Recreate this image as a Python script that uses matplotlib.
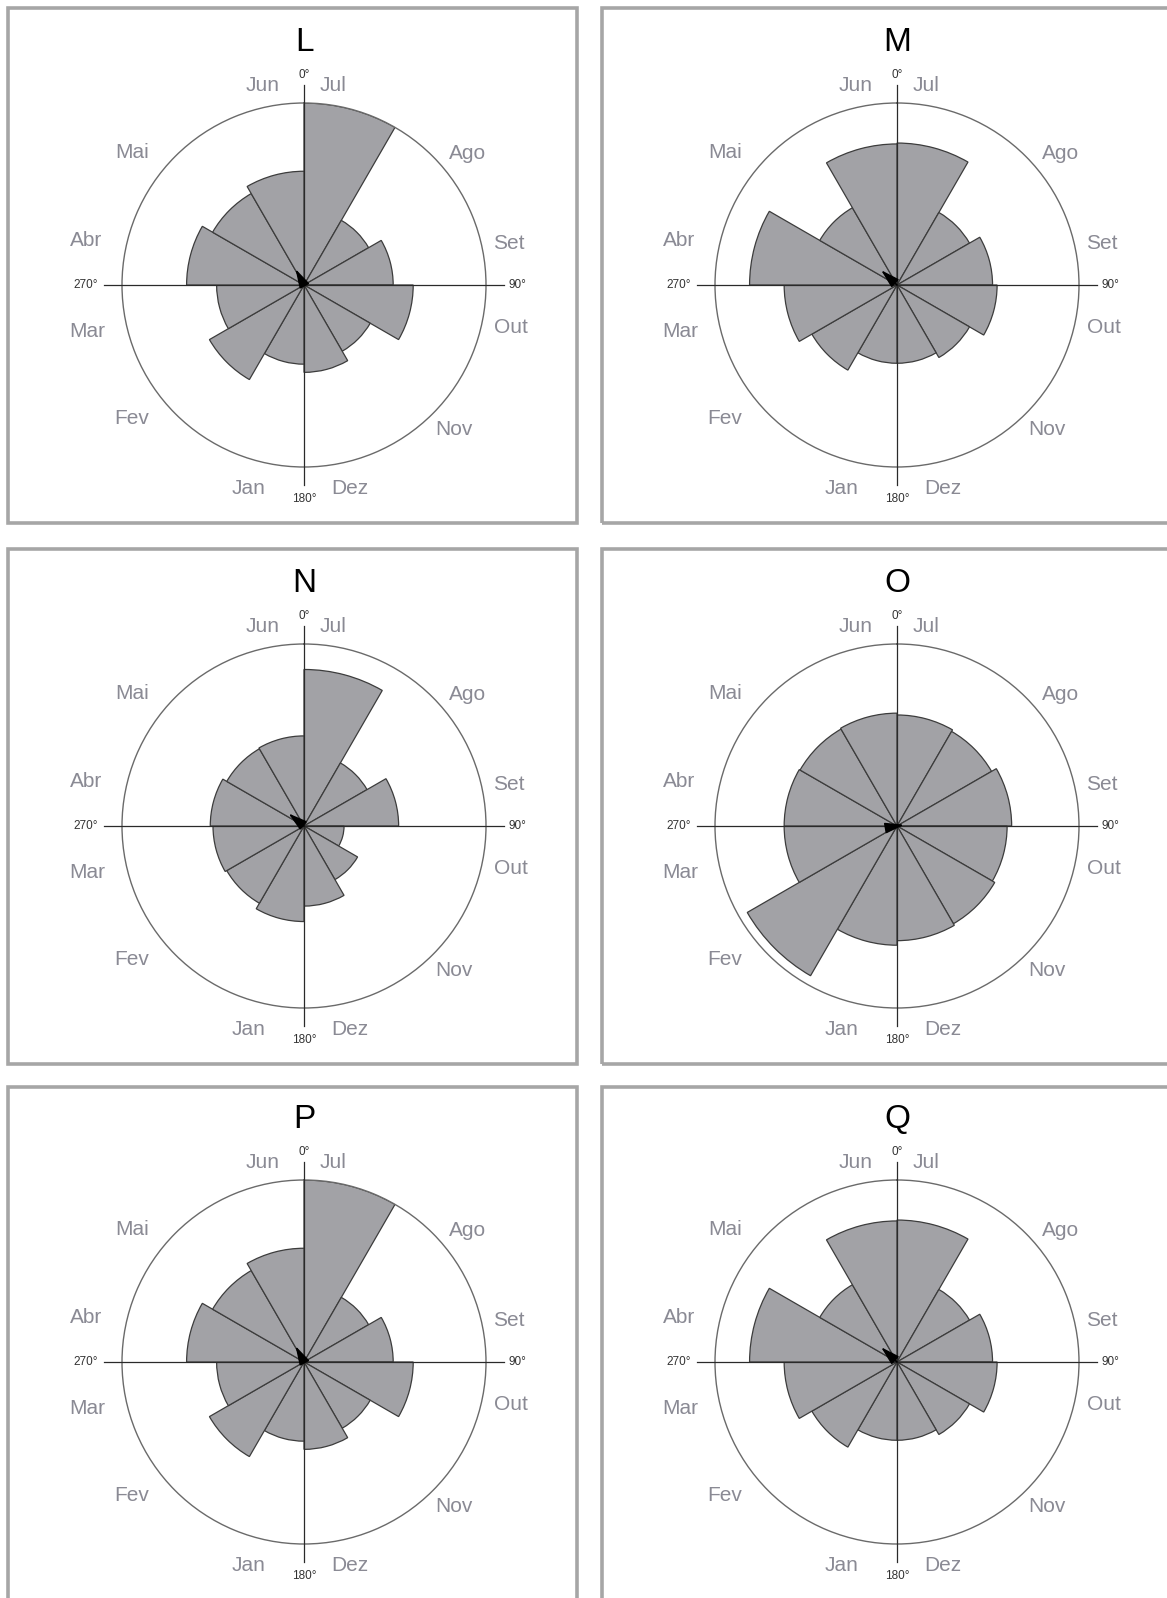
import numpy as np
import matplotlib
matplotlib.use("Agg")
import matplotlib.pyplot as plt
from matplotlib.patches import Rectangle

plt.rcParams['font.family'] = ['Liberation Sans', 'DejaVu Sans']

# Months in drawing order: clockwise starting at 0 deg (north)
months = ["Jul", "Ago", "Set", "Out", "Nov", "Dez",
          "Jan", "Fev", "Mar", "Abr", "Mai", "Jun"]

# Sector lengths as a fraction of the outer circle radius
vals_L = [1.00, 0.41, 0.49, 0.60, 0.42, 0.48, 0.435, 0.60, 0.48, 0.645, 0.58, 0.625]
vals_M = [0.78, 0.46, 0.525, 0.55, 0.46, 0.43, 0.43, 0.54, 0.62, 0.81, 0.49, 0.775]
vals_N = [0.86, 0.40, 0.52, 0.22, 0.34, 0.44, 0.525, 0.49, 0.50, 0.515, 0.49, 0.495]
vals_O = [0.61, 0.60, 0.63, 0.605, 0.62, 0.63, 0.655, 0.95, 0.62, 0.62, 0.615, 0.62]
vals_P = [1.00, 0.41, 0.49, 0.60, 0.42, 0.48, 0.435, 0.60, 0.48, 0.645, 0.58, 0.625]
vals_Q = [0.78, 0.46, 0.525, 0.55, 0.46, 0.43, 0.43, 0.54, 0.62, 0.81, 0.49, 0.775]

# Mean vector (direction in degrees clockwise from north, length)
arrow_dir = [332, 313, 309, 80, 332, 313]
arrow_len = [0.10, 0.12, 0.11, 0.04, 0.10, 0.12]

panel_titles = ["L", "M", "N", "O", "P", "Q"]
panel_vals = [vals_L, vals_M, vals_N, vals_O, vals_P, vals_Q]

W, H = 1167, 1598
fig = plt.figure(figsize=(W / 100, H / 100), dpi=100)

R = 182  # outer circle radius in pixels
centers = [(304, 285), (897, 285), (304, 826), (897, 826), (304, 1362), (897, 1362)]
frames = [(8, 8, 577, 523), (602, 8, 1175, 523),
          (8, 549, 577, 1064), (602, 549, 1175, 1064),
          (8, 1087, 577, 1610), (602, 1087, 1175, 1610)]

# label offsets in units of the circle radius (x right, y up)
label_pos = {
    "Jul": (0.16, 1.095), "Ago": (0.896, 0.723), "Set": (1.124, 0.229),
    "Out": (1.135, -0.233), "Nov": (0.824, -0.795), "Dez": (0.253, -1.117),
    "Jan": (-0.303, -1.117), "Fev": (-0.946, -0.735), "Mar": (-1.19, -0.255),
    "Abr": (-1.2, 0.242), "Mai": (-0.946, 0.726), "Jun": (-0.228, 1.095),
}
deg_pos = {"0°": (0, 1.155), "90°": (1.17, 0), "180°": (0, -1.175), "270°": (-1.2, 0)}

fill_col = "#a2a2a6"
edge_col = "#3c3c3c"
label_col = "#8a8a94"

theta = np.deg2rad(np.arange(12) * 30)
width = np.deg2rad(30)

for i in range(6):
    # panel frame
    x0, y0, x1, y1 = frames[i]
    fig.add_artist(Rectangle((x0 / W, 1 - y1 / H), (x1 - x0) / W, (y1 - y0) / H,
                             transform=fig.transFigure, fill=False,
                             edgecolor="#a6a6a6", linewidth=2.6))

    cx, cy = centers[i]
    ax = fig.add_axes([(cx - R) / W, 1 - (cy + R) / H, 2 * R / W, 2 * R / H],
                      projection="polar")
    ax.set_theta_zero_location("N")
    ax.set_theta_direction(-1)
    ax.set_ylim(0, 1)
    ax.grid(False)
    ax.set_xticks([])
    ax.set_yticks([])
    ax.patch.set_alpha(0)
    ax.spines["polar"].set_color("#6a6a6a")
    ax.spines["polar"].set_linewidth(1.0)

    ax.bar(theta, panel_vals[i], width=width, align="edge",
           color=fill_col, edgecolor=edge_col, linewidth=0.9, zorder=2)

    # cross axes extending past the circle
    for a in [0, 90, 180, 270]:
        ax.plot([np.deg2rad(a), np.deg2rad(a)], [0, 1.1], color="#2a2a2a",
                lw=0.9, clip_on=False, zorder=3)

    ax.annotate("", xy=(np.deg2rad(arrow_dir[i]), arrow_len[i]), xytext=(0, 0),
                arrowprops=dict(arrowstyle="-|>,head_length=0.6,head_width=0.17",
                                color="black", lw=1.2, mutation_scale=19,
                                shrinkA=0, shrinkB=0),
                zorder=5, annotation_clip=False)

    for m in months:
        dx, dy = label_pos[m]
        ax.text(0.5 + dx / 2, 0.5 + dy / 2, m, transform=ax.transAxes,
                ha="center", va="center", fontsize=15, color=label_col)
    for d, (dx, dy) in deg_pos.items():
        ax.text(0.5 + dx / 2, 0.5 + dy / 2, d, transform=ax.transAxes,
                ha="center", va="center", fontsize=8.5, color="#333333")

    ax.text(0.5, 0.5 + 1.335 / 2, panel_titles[i], transform=ax.transAxes,
            ha="center", va="center", fontsize=24, color="black")

fig.savefig("out.png", dpi=100)
